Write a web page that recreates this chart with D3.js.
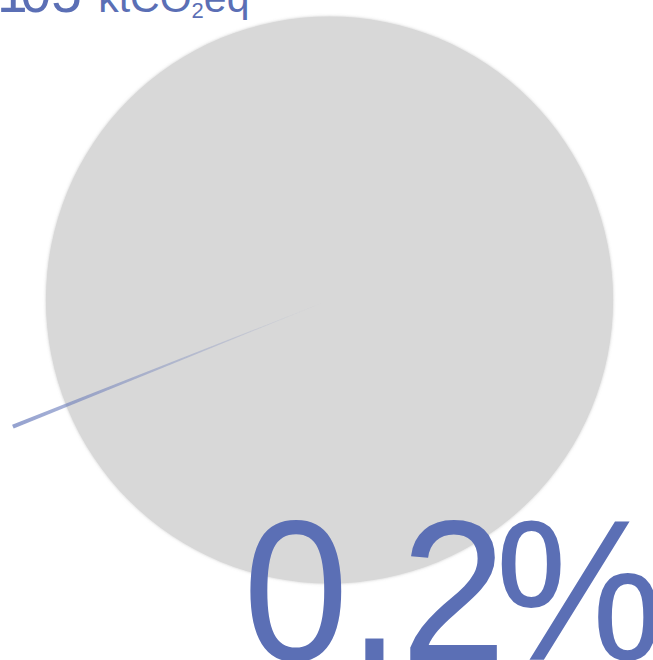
<!DOCTYPE html>
<html>
<head>
<meta charset="utf-8">
<script src="https://cdn.jsdelivr.net/npm/d3@7"></script>
<style>
  html, body { margin: 0; padding: 0; background: #fff; overflow: hidden; }
  svg { display: block; }
</style>
</head>
<body>
<svg id="chart"></svg>
<script>
// Chart data
const shareLabels = ['sector', 'rest'];
const shareValues = [0.2, 99.8];          // percent of total
const totalValue = [105];                 // ktCO2eq
const unitParts = [' ktCO', '2', 'eq'];   // unit text, middle part is a subscript

// Canvas setup
const width = 653;
const height = 660;
const blue = '#5b6fb5';
const font = 'Liberation Sans, Arial, Helvetica, sans-serif';

const svg = d3.select('#chart')
    .attr('width', width)
    .attr('height', height);

const defs = svg.append('defs');

// soft edge on the grey disk
const shadow = defs.append('filter')
    .attr('id', 'soft')
    .attr('x', '-10%').attr('y', '-10%')
    .attr('width', '120%').attr('height', '120%');
shadow.append('feDropShadow')
    .attr('dx', 0).attr('dy', 0)
    .attr('stdDeviation', 1.5)
    .attr('flood-color', '#999')
    .attr('flood-opacity', 0.5);

// slight blur for the wedge
defs.append('filter')
    .attr('id', 'wblur')
    .attr('x', '-20%').attr('y', '-20%')
    .attr('width', '140%').attr('height', '140%')
    .append('feGaussianBlur')
    .attr('stdDeviation', 0.6);

// wedge fades in from the centre
const cx = 329.5;
const cy = 300;
const innerR = 283.5;
const outerR = 341;

const grad = defs.append('radialGradient')
    .attr('id', 'wedgeGrad')
    .attr('gradientUnits', 'userSpaceOnUse')
    .attr('cx', 0).attr('cy', 0).attr('r', outerR);
grad.append('stop').attr('offset', '0%').attr('stop-color', blue).attr('stop-opacity', 0);
grad.append('stop').attr('offset', '100%').attr('stop-color', blue).attr('stop-opacity', 0.65);

const g = svg.append('g').attr('transform', `translate(${cx},${cy})`);

// Grey full disk
const diskArc = d3.arc().innerRadius(0).outerRadius(innerR);
g.append('path')
    .attr('d', diskArc({ startAngle: 0, endAngle: Math.PI * 2 }))
    .attr('fill', '#d8d8d8')
    .attr('filter', 'url(#soft)');

// The share wedge, centred on ~248 degrees
const sliceCentre = 248.2 * Math.PI / 180;
const firstSpan = shareValues[0] / d3.sum(shareValues) * Math.PI * 2;
const pie = d3.pie()
    .sort(null)
    .startAngle(sliceCentre - firstSpan / 2)
    .endAngle(sliceCentre - firstSpan / 2 + Math.PI * 2);
const slices = pie(shareValues);

const wedgeArc = d3.arc().innerRadius(0).outerRadius(outerR);
g.selectAll('path.wedge')
    .data(slices.filter((d, i) => shareLabels[i] === 'sector'))
    .enter()
    .append('path')
    .attr('class', 'wedge')
    .attr('d', wedgeArc)
    .attr('fill', 'url(#wedgeGrad)')
    .attr('filter', 'url(#wblur)');

// Total at the top (mostly off the page)
const topText = svg.append('text')
    .attr('x', -3)
    .attr('y', 12)
    .attr('fill', blue)
    .attr('font-family', font)
    .attr('font-size', 55);
topText.append('tspan').attr('dx', '0 -7 0').text(totalValue[0]);
topText.append('tspan').attr('font-size', 41).attr('dx', 5).text(unitParts[0]);
topText.append('tspan').attr('font-size', 22).attr('dy', 6).text(unitParts[1]);
topText.append('tspan').attr('font-size', 41).attr('dy', -6).text(unitParts[2]);

// Big percent label, glyphs nudged to the reference spacing
svg.append('text')
    .attr('transform', 'translate(242.9,660) scale(0.95,1)')
    .attr('fill', blue)
    .attr('font-family', font)
    .attr('font-size', 200)
    .attr('dx', '0 -0.7 0 -12')
    .text(d3.format('.1f')(shareValues[0]) + '%');
</script>
</body>
</html>
